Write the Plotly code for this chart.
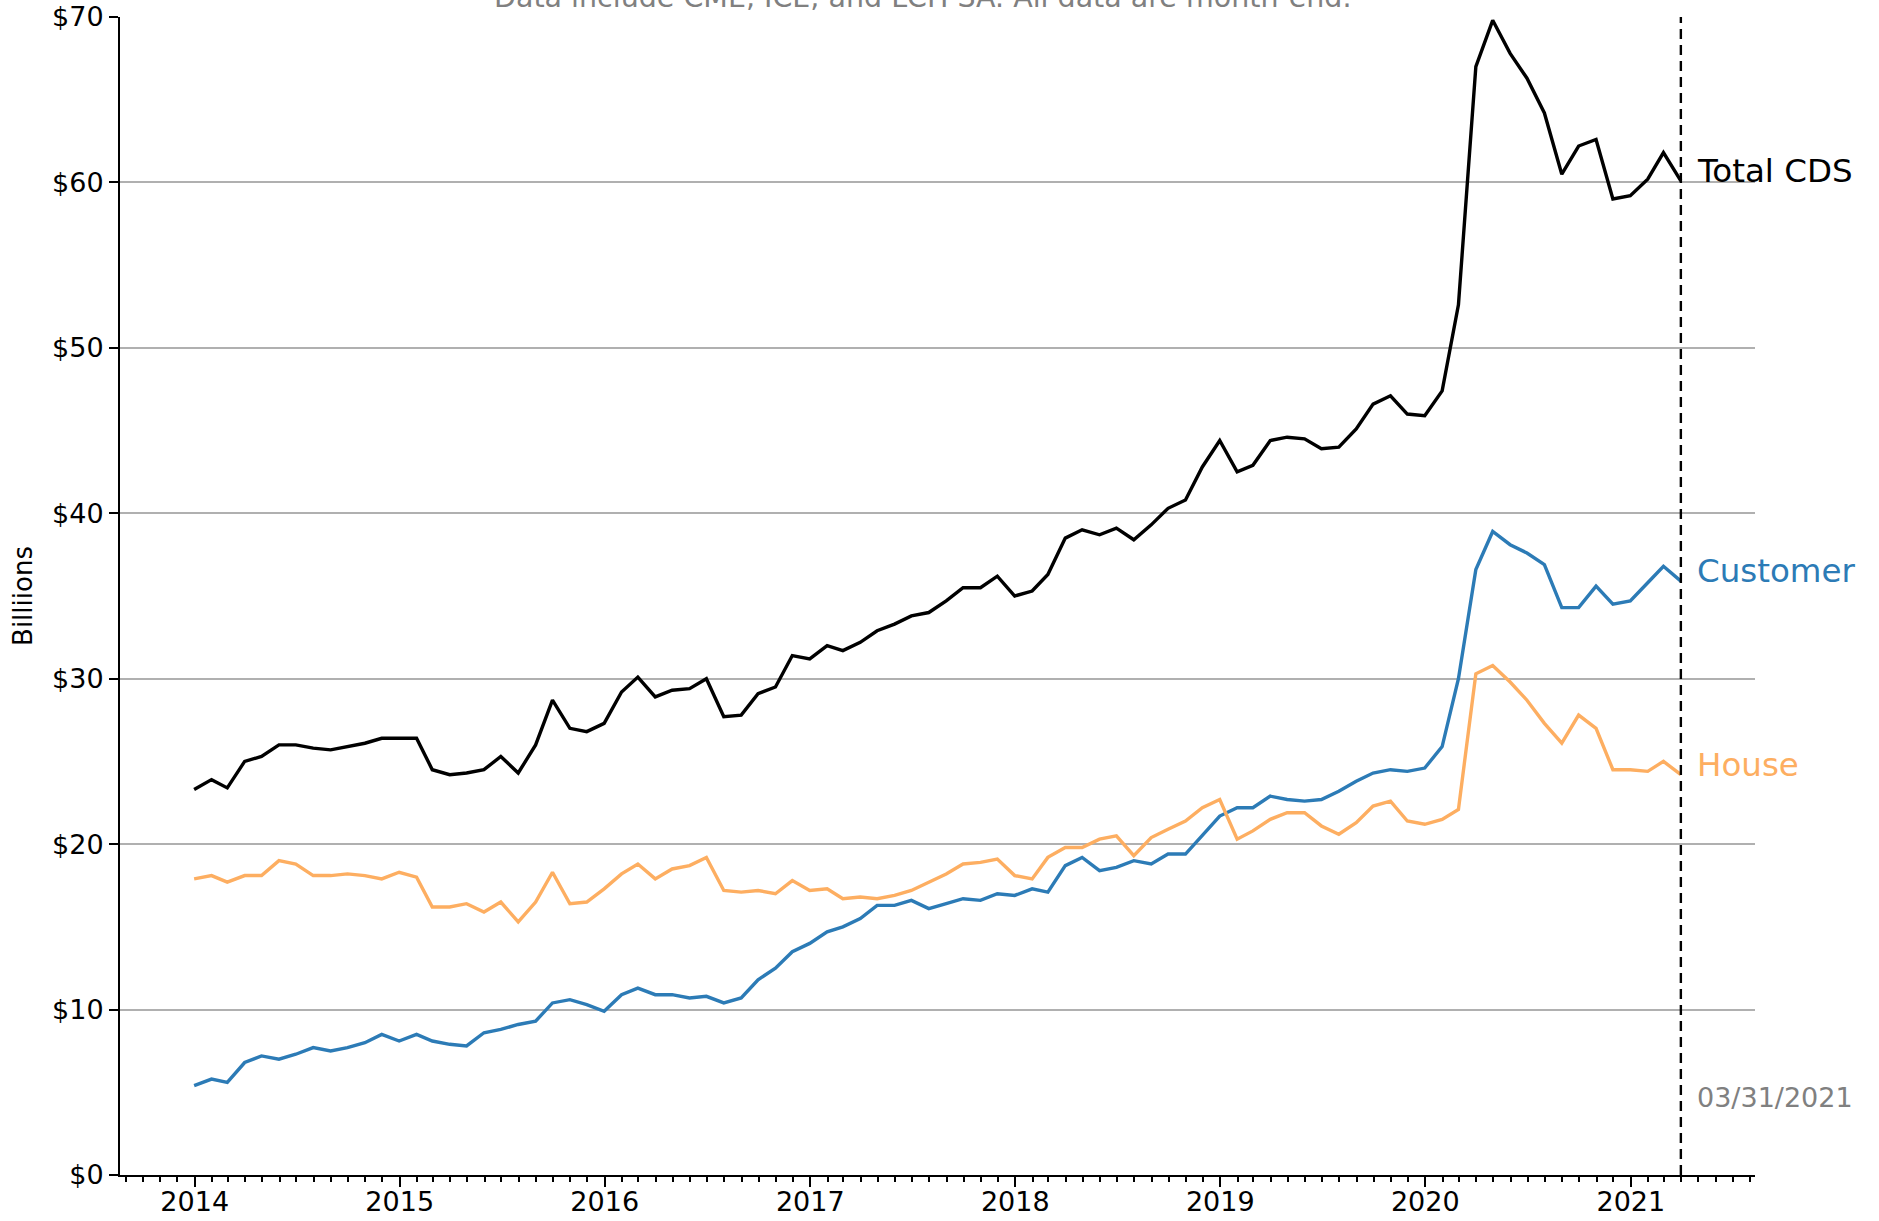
import plotly.graph_objects as go
import pandas as pd

# Month-end dates, 2013-12-31 .. 2021-03-31
months = [d.strftime("%Y-%m-%d") for d in pd.date_range("2013-12-01", "2021-03-01", freq="MS") + pd.offsets.MonthEnd(0)]

total_cds = [23.3, 23.9, 23.4, 25.0, 25.3, 26.0, 26.0, 25.8, 25.7, 25.9, 26.1, 26.4,
             26.4, 26.4, 24.5, 24.2, 24.3, 24.5, 25.3, 24.3, 26.0, 28.7, 27.0, 26.8,
             27.3, 29.2, 30.1, 28.9, 29.3, 29.4, 30.0, 27.7, 27.8, 29.1, 29.5, 31.4,
             31.2, 32.0, 31.7, 32.2, 32.9, 33.3, 33.8, 34.0, 34.7, 35.5, 35.5, 36.2,
             35.0, 35.3, 36.3, 38.5, 39.0, 38.7, 39.1, 38.4, 39.3, 40.3, 40.8, 42.8,
             44.4, 42.5, 42.9, 44.4, 44.6, 44.5, 43.9, 44.0, 45.1, 46.6, 47.1, 46.0,
             45.9, 47.4, 52.6, 67.0, 69.8, 67.8, 66.3, 64.2, 60.5, 62.2, 62.6, 59.0,
             59.2, 60.2, 61.8, 60.1]

customer = [5.4, 5.8, 5.6, 6.8, 7.2, 7.0, 7.3, 7.7, 7.5, 7.7, 8.0, 8.5,
            8.1, 8.5, 8.1, 7.9, 7.8, 8.6, 8.8, 9.1, 9.3, 10.4, 10.6, 10.3,
            9.9, 10.9, 11.3, 10.9, 10.9, 10.7, 10.8, 10.4, 10.7, 11.8, 12.5, 13.5,
            14.0, 14.7, 15.0, 15.5, 16.3, 16.3, 16.6, 16.1, 16.4, 16.7, 16.6, 17.0,
            16.9, 17.3, 17.1, 18.7, 19.2, 18.4, 18.6, 19.0, 18.8, 19.4, 19.4, 20.5,
            21.7, 22.2, 22.2, 22.9, 22.7, 22.6, 22.7, 23.2, 23.8, 24.3, 24.5, 24.4,
            24.6, 25.9, 30.0, 36.6, 38.9, 38.1, 37.6, 36.9, 34.3, 34.3, 35.6, 34.5,
            34.7, 35.8, 36.8, 35.9]

house = [17.9, 18.1, 17.7, 18.1, 18.1, 19.0, 18.8, 18.1, 18.1, 18.2, 18.1, 17.9,
         18.3, 18.0, 16.2, 16.2, 16.4, 15.9, 16.5, 15.3, 16.5, 18.3, 16.4, 16.5,
         17.3, 18.2, 18.8, 17.9, 18.5, 18.7, 19.2, 17.2, 17.1, 17.2, 17.0, 17.8,
         17.2, 17.3, 16.7, 16.8, 16.7, 16.9, 17.2, 17.7, 18.2, 18.8, 18.9, 19.1,
         18.1, 17.9, 19.2, 19.8, 19.8, 20.3, 20.5, 19.3, 20.4, 20.9, 21.4, 22.2,
         22.7, 20.3, 20.8, 21.5, 21.9, 21.9, 21.1, 20.6, 21.3, 22.3, 22.6, 21.4,
         21.2, 21.5, 22.1, 30.3, 30.8, 29.8, 28.7, 27.3, 26.1, 27.8, 27.0, 24.5,
         24.5, 24.4, 25.0, 24.2]

series_names = ["Total CDS", "Customer", "House"]
series_colors = ["#000000", "#2c7bb6", "#fdae61"]
series_values = [total_cds, customer, house]

y_ticks = [0, 10, 20, 30, 40, 50, 60, 70]
x_tick_labels = ["2014", "2015", "2016", "2017", "2018", "2019", "2020", "2021"]
as_of = "2021-03-31"
as_of_label = "03/31/2021"
subtitle = "Data include CME, ICE, and LCH SA. All data are month-end."

FONT = "DejaVu Sans"

fig = go.Figure()
for name, color, vals in zip(series_names, series_colors, series_values):
    fig.add_trace(go.Scatter(x=months, y=vals, mode="lines", name=name,
                             line=dict(color=color, width=3.4), showlegend=False))

# dashed as-of line
fig.add_shape(type="line", xref="x", yref="y", x0=as_of, x1=as_of, y0=0, y1=70,
              line=dict(color="black", width=2.4, dash="10px,6px"))

for name, color, vals in zip(series_names, series_colors, series_values):
    fig.add_annotation(x=months[-1], y=vals[-1], xref="x", yref="y", text=name,
                       showarrow=False, xanchor="left", yanchor="middle",
                       xshift=14, yshift=10,
                       font=dict(family=FONT, size=32.5, color=color))

fig.add_annotation(x=as_of, y=4.7, xref="x", yref="y", text=as_of_label,
                   showarrow=False, xanchor="left", yanchor="middle", xshift=14,
                   font=dict(family=FONT, size=27, color="#808080"))

fig.add_annotation(x=0.491, y=1.0, xref="paper", yref="paper", text=subtitle,
                   showarrow=False, xanchor="center", yanchor="bottom", yshift=1,
                   font=dict(family=FONT, size=28.5, color="#808080"))

fig.update_layout(
    width=1879, height=1221,
    margin=dict(l=120, r=123.5, t=17, b=45.5, autoexpand=False),
    paper_bgcolor="white", plot_bgcolor="white",
    font=dict(family=FONT, size=27, color="black"),
)

fig.update_xaxes(
    type="date", range=["2013-08-21", "2021-08-10"],
    tickvals=[f"{y}-01-01" for y in x_tick_labels], ticktext=x_tick_labels,
    ticks="outside", ticklen=10, tickwidth=2, tickcolor="black",
    showline=True, linecolor="black", linewidth=2,
    showgrid=False, zeroline=False, automargin=False,
    ticklabelstandoff=-8,
    tickfont=dict(family=FONT, size=27, color="black"),
    minor=dict(dtick="M1", tick0="2014-01-01", ticks="outside", ticklen=5,
               tickwidth=1.5, tickcolor="black", showgrid=False),
)

fig.update_yaxes(
    range=[0, 70], tickvals=y_ticks, ticktext=[f"${v}" for v in y_ticks],
    ticks="outside", ticklen=9, tickwidth=2, tickcolor="black",
    showline=True, linecolor="black", linewidth=2,
    showgrid=True, gridcolor="#b0b0b0", gridwidth=1.5,
    zeroline=False, automargin=False, ticklabeloverflow="allow",
    tickfont=dict(family=FONT, size=27, color="black"),
    title=dict(text="Billiions", font=dict(family=FONT, size=26, color="black"), standoff=12),
)

fig.write_html("out.html", config={"displayModeBar": False},
               post_script="document.body.style.margin='0px';")
